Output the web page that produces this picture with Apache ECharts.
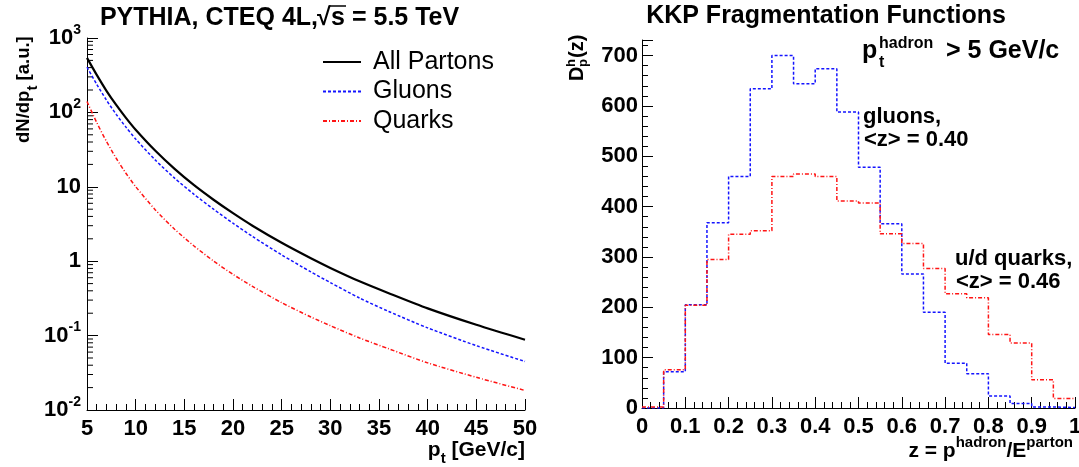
<!DOCTYPE html>
<head>
    <meta charset="utf-8"/>
    <style>
        html,body { height:100%; width:100%; margin:0; padding:0; background:#fff; }
        #main { width:1079px; height:467px; }
    </style>
</head>
<body>
<div id="main"></div>
<script src="https://cdn.jsdelivr.net/npm/echarts@6.0.0/dist/echarts.min.js"></script>
<script type="text/javascript">

 // left panel: pt spectra
 var ptVals     = [5, 6, 7, 8, 9, 10, 12, 14, 16, 18, 20, 22, 25, 28, 30, 33, 36, 40, 45, 50];
 var allPartons = [540, 319, 195, 126, 84.5, 58.5, 30.7, 17.4, 10.5, 6.7, 4.42, 3.0, 1.77, 1.096, 0.813, 0.537, 0.3715, 0.232, 0.1396, 0.088];
 var gluons     = [405, 239, 146, 94.2, 63.4, 43.9, 23.0, 13.06, 7.91, 5.0, 3.24, 2.15, 1.216, 0.719, 0.516, 0.320, 0.211, 0.127, 0.0733, 0.0449];
 var quarks     = [140, 73, 40.7, 24.2, 15.2, 10.05, 4.93, 2.69, 1.60, 1.007, 0.665, 0.459, 0.277, 0.178, 0.136, 0.0929, 0.0665, 0.043, 0.0275, 0.0183];

 // right panel: fragmentation histograms, bins of 0.05
 var zEdges    = [0, 0.05, 0.1, 0.15, 0.2, 0.25, 0.3, 0.35, 0.4, 0.45, 0.5, 0.55, 0.6, 0.65, 0.7, 0.75, 0.8, 0.85, 0.9, 0.95, 1.0];
 var gluonFF   = [0, 72, 205, 368, 460, 634, 700, 644, 674, 588, 478, 366, 266, 190, 89, 68, 24, 9, 2, 1];
 var quarkFF   = [2, 76, 204, 295, 345, 352, 460, 465, 460, 411, 407, 346, 327, 277, 227, 219, 146, 129, 56, 19];

 var logDecades = [0.01, 0.1, 1, 10, 100];

 var FONT = '"Liberation Sans", Arial, sans-serif';

 function pairs(xs, ys){
     var out = [];
     for (var i = 0; i < ys.length; i++) out.push([xs[i], ys[i]]);
     return out;
 }
 // step outline: last bin closed at the upper edge
 function histPairs(edges, vals){
     var out = pairs(edges, vals);
     out.push([edges[vals.length], vals[vals.length - 1]]);
     return out;
 }
 // minor ticks 2..9 of each decade on the log axis
 var minorLog = [];
 logDecades.forEach(function(d){
     for (var k = 2; k <= 9; k++) minorLog.push([5, d * k]);
 });

 function expLabel(v){
     var e = Math.round(Math.log(v) / Math.LN10);
     if (e === 0) return '{b|1}';
     if (e === 1) return '{b|10}';
     return '{b|10}{s|' + e + '}';
 }

 var labelRich = {
     b: { fontSize: 22, fontWeight: 'bold', fontFamily: FONT, color: '#000', lineHeight: 30 },
     s: { fontSize: 14, fontWeight: 'bold', fontFamily: FONT, color: '#000', lineHeight: 14, verticalAlign: 'top' }
 };
 function nameRich(size){
     return {
         b:   { fontSize: size, fontWeight: 'bold', fontFamily: FONT, color: '#000', lineHeight: 32 },
         sub: { fontSize: 15, fontWeight: 'bold', fontFamily: FONT, color: '#000', lineHeight: 15, verticalAlign: 'bottom' },
         sup: { fontSize: 15, fontWeight: 'bold', fontFamily: FONT, color: '#000', lineHeight: 15, verticalAlign: 'top' }
     };
 }

 var axisBlack = { lineStyle: { color: '#000', width: 1 } };
 var tickLabel = { color: '#000', fontSize: 22, fontWeight: 'bold', fontFamily: FONT };

 function txt(x, y, text, size, align){
     return {
         type: 'text', x: x, y: y, silent: true,
         style: { text: text, font: 'bold ' + size + 'px ' + FONT, fill: '#000',
                  textAlign: align || 'left', textVerticalAlign: 'middle' }
     };
 }

 var chart = echarts.init(document.getElementById('main'), null, { renderer: 'canvas' });

 var option = {
     backgroundColor: '#fff',
     animation: false,
     grid: [
         { left: 87, top: 38, width: 438, height: 372, outerBoundsMode: 'none', containLabel: false },
         { left: 642, top: 40, width: 433, height: 368, outerBoundsMode: 'none', containLabel: false }
     ],
     legend: {
         data: ['All Partons', 'Gluons', 'Quarks'],
         orient: 'vertical',
         left: 322, top: 49, padding: 0,
         itemWidth: 38, itemHeight: 14, itemGap: 3.5,
         textStyle: { fontSize: 25, fontFamily: FONT, color: '#000', lineHeight: 26, padding: [0, 0, 0, 7] }
     },
     xAxis: [
         {
             gridIndex: 0, type: 'value', min: 5, max: 50, interval: 5,
             axisLine: axisBlack,
             axisTick: { inside: true, length: 11, lineStyle: { color: '#000' } },
             minorTick: { show: true, splitNumber: 5, length: 6, lineStyle: { color: '#000' } },
             splitLine: { show: false },
             axisLabel: Object.assign({ margin: 8 }, tickLabel)
         },
         {
             gridIndex: 1, type: 'value', min: 0, max: 1, interval: 0.1,
             axisLine: axisBlack,
             axisTick: { inside: true, length: 11, lineStyle: { color: '#000' } },
             minorTick: { show: true, splitNumber: 5, length: 6, lineStyle: { color: '#000' } },
             splitLine: { show: false },
             axisLabel: Object.assign({ margin: 8, formatter: function(v){ return String(+v.toFixed(1)); } }, tickLabel)
         }
     ],
     yAxis: [
         {
             gridIndex: 0, type: 'log', logBase: 10, min: 0.01, max: 1000,
             axisLine: axisBlack,
             axisTick: { inside: true, length: 11, lineStyle: { color: '#000' } },
             minorTick: { show: false },
             splitLine: { show: false },
             axisLabel: { margin: 6, formatter: expLabel, rich: labelRich }
         },
         {
             gridIndex: 1, type: 'value', min: 0, max: 731, interval: 100,
             axisLine: axisBlack,
             axisTick: { inside: true, length: 11, lineStyle: { color: '#000' } },
             minorTick: { show: true, splitNumber: 5, length: 6, lineStyle: { color: '#000' } },
             splitLine: { show: false },
             axisLabel: Object.assign({ margin: 4, showMaxLabel: false }, tickLabel)
         }
     ],
     series: [
         {
             name: 'All Partons', type: 'line', xAxisIndex: 0, yAxisIndex: 0,
             data: pairs(ptVals, allPartons), showSymbol: false, symbol: 'none', smooth: 0.25,
             lineStyle: { color: '#000', width: 2.2 }, itemStyle: { color: '#000', opacity: 0 }
         },
         {
             name: 'Gluons', type: 'line', xAxisIndex: 0, yAxisIndex: 0,
             data: pairs(ptVals, gluons), showSymbol: false, symbol: 'none', smooth: 0.25,
             lineStyle: { color: '#1414ff', width: 1.5, type: [3, 2] }, itemStyle: { color: '#1414ff', opacity: 0 }
         },
         {
             name: 'Quarks', type: 'line', xAxisIndex: 0, yAxisIndex: 0,
             data: pairs(ptVals, quarks), showSymbol: false, symbol: 'none', smooth: 0.25,
             lineStyle: { color: '#ff1414', width: 1.5, type: [4, 2, 1, 2] }, itemStyle: { color: '#ff1414', opacity: 0 }
         },
         {
             name: 'logMinor', type: 'custom', xAxisIndex: 0, yAxisIndex: 0,
             data: minorLog, silent: true, clip: false,
             renderItem: function(params, api){
                 var p = api.coord([api.value(0), api.value(1)]);
                 return { type: 'line', shape: { x1: p[0], y1: p[1], x2: p[0] + 6, y2: p[1] },
                          style: { stroke: '#000', lineWidth: 1 } };
             }
         },
         {
             name: 'gluon FF', type: 'line', xAxisIndex: 1, yAxisIndex: 1,
             data: histPairs(zEdges, gluonFF), step: 'end', showSymbol: false, symbol: 'none',
             lineStyle: { color: '#1414ff', width: 1.5, type: [3, 2] }
         },
         {
             name: 'quark FF', type: 'line', xAxisIndex: 1, yAxisIndex: 1,
             data: histPairs(zEdges, quarkFF), step: 'end', showSymbol: false, symbol: 'none',
             lineStyle: { color: '#ff1414', width: 1.5, type: [4, 2, 1, 2] }
         }
     ],
     graphic: [
         // left title with sqrt(s)
         txt(318, 18, 'PYTHIA, CTEQ 4L,', 25, 'right'),
         txt(317, 18, '\u221A', 25, 'left'),
         txt(331, 18, 's', 25, 'left'),
         { type: 'line', silent: true, shape: { x1: 329, y1: 6, x2: 346, y2: 6 }, style: { stroke: '#000', lineWidth: 1.5 } },
         txt(345, 18, ' = 5.5 TeV', 25, 'left'),
         // right title
         txt(826, 16, 'KKP Fragmentation Functions', 25, 'center'),
         // pt hadron cut
         txt(862, 51, 'p', 25, 'left'),
         txt(879, 44, 'hadron', 16, 'left'),
         txt(879, 63, 't', 16, 'left'),
         txt(946, 51, '> 5 GeV/c', 25, 'left'),
         // mean z notes
         txt(863, 117, 'gluons,', 22, 'left'),
         txt(864, 140, '<z> = 0.40', 22, 'left'),
         txt(955, 259, 'u/d quarks,', 22, 'left'),
         txt(956, 282, '<z> = 0.46', 22, 'left'),
         // x axis titles
         { type: 'text', x: 525, y: 450, silent: true,
           style: { text: '{b|p}{sub|t}{b| [GeV/c]}', rich: nameRich(21), textAlign: 'right', textVerticalAlign: 'middle' } },
         { type: 'text', x: 1073, y: 451, silent: true,
           style: { text: '{b|z = p}{sup|hadron}{b|/E}{sup|parton}', rich: nameRich(21), textAlign: 'right', textVerticalAlign: 'middle' } },
         // y axis titles (rotated)
         { type: 'group', x: 24, y: 143, rotation: Math.PI / 2, silent: true, children: [
             { type: 'text', x: 0, y: 0,
               style: { text: '{b|dN/dp}{sub|t}{b| [a.u.]}', rich: nameRich(18.5), textAlign: 'left', textVerticalAlign: 'middle' } }
         ] },
         { type: 'group', x: 577, y: 81, rotation: Math.PI / 2, silent: true, children: [
             txt(0, 0, 'D', 20, 'left'),
             txt(14, -6, 'h', 13, 'left'),
             txt(14, 6, 'p', 13, 'left'),
             txt(23, 0, '(z)', 20, 'left')
         ] }
     ]
 };

 chart.setOption(option);

</script>
</body>
